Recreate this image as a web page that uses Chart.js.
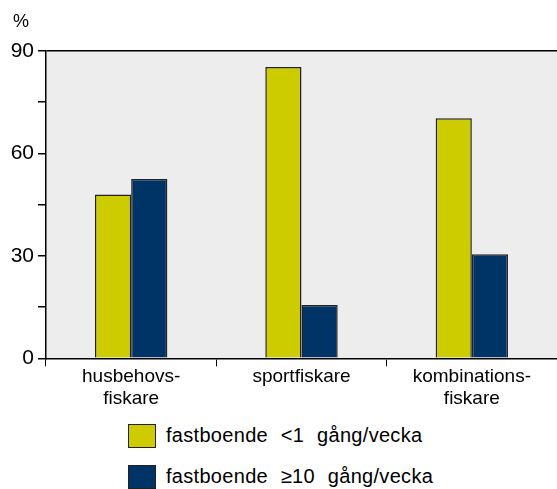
<!DOCTYPE html>
<html lang="sv">
<head>
    <meta charset="UTF-8">
    <title>Fiskare - fastboende</title>
    <script src="https://cdn.jsdelivr.net/npm/chart.js"></script>
    <style>
        body {
            margin: 0;
            background: #fff;
            font-family: "Liberation Sans", Arial, sans-serif;
        }
        .wrap {
            position: relative;
            width: 557px;
            height: 489px;
            overflow: hidden;
        }
        #chart {
            position: absolute;
            left: 0;
            top: 0;
        }
        .legend {
            position: absolute;
            left: 128px;
            top: 423px;
        }
        .legend-item {
            display: flex;
            align-items: center;
            height: 25px;
            margin-bottom: 16px;
            font-size: 20px;
            word-spacing: 7px;
            letter-spacing: 0.3px;
            color: #000;
        }
        .legend-box {
            width: 26px;
            height: 22px;
            border: 1.5px solid #222;
            margin-right: 10px;
        }
    </style>
</head>
<body>
    <div class="wrap">
        <canvas id="chart" width="557" height="410"></canvas>
        <div id="legend" class="legend"></div>
    </div>

    <script>
        // Data
        const categories = [['husbehovs-', 'fiskare'], ['sportfiskare'], ['kombinations-', 'fiskare']];
        const seriesNames = ['fastboende <1 gång/vecka', 'fastboende \u226510 gång/vecka'];
        const lessThanOne = [48, 85.3, 70.3];
        const tenOrMore = [52.5, 15.6, 30.5];
        const seriesColors = ['#cccc00', '#003366'];
        const yTicksLabelled = [0, 30, 60, 90];

        Chart.defaults.font.family = '"Liberation Sans", Arial, sans-serif';
        Chart.defaults.color = '#000';

        // gray plot background + the "%" unit label
        const plotBg = {
            id: 'plotBg',
            beforeDraw(chart) {
                const a = chart.chartArea;
                const ctx = chart.ctx;
                ctx.save();
                ctx.fillStyle = '#ededed';
                ctx.fillRect(a.left, a.top, chart.width - a.left, a.bottom - a.top);
                ctx.restore();
            },
            afterDraw(chart) {
                const ctx = chart.ctx;
                ctx.save();
                ctx.font = '18px "Liberation Sans", Arial, sans-serif';
                ctx.fillStyle = '#000';
                ctx.textAlign = 'center';
                ctx.textBaseline = 'middle';
                ctx.fillText('%', 21, 22);
                ctx.restore();
            }
        };

        const chart = new Chart(document.getElementById('chart'), {
            type: 'bar',
            data: {
                labels: categories,
                datasets: [
                    {
                        label: seriesNames[0],
                        data: lessThanOne,
                        backgroundColor: seriesColors[0],
                        borderColor: '#222',
                        borderWidth: 1.5
                    },
                    {
                        label: seriesNames[1],
                        data: tenOrMore,
                        backgroundColor: seriesColors[1],
                        borderColor: '#222',
                        borderWidth: 1.5
                    }
                ]
            },
            options: {
                responsive: false,
                animation: false,
                categoryPercentage: 0.425,
                barPercentage: 1.0,
                layout: {
                    padding: { top: 51, right: 0, bottom: 0, left: 0 }
                },
                plugins: {
                    legend: { display: false },
                    tooltip: { enabled: false }
                },
                scales: {
                    x: {
                        grid: {
                            offset: true,
                            drawOnChartArea: false,
                            tickLength: 8,
                            color: '#000'
                        },
                        border: { color: '#000', width: 1.5 },
                        ticks: {
                            font: { size: 19, lineHeight: 1.15 },
                            color: '#000',
                            padding: 0,
                            maxRotation: 0,
                            autoSkip: false
                        }
                    },
                    y: {
                        min: 0,
                        max: 90,
                        afterFit(scale) { scale.width = 46; },
                        grid: {
                            color: ctx => (ctx.tick && ctx.tick.value === 90) ? '#000' : 'rgba(0,0,0,0)',
                            lineWidth: 1.5,
                            tickColor: '#000',
                            tickLength: 8
                        },
                        border: { color: '#000', width: 1.5 },
                        ticks: {
                            stepSize: 15,
                            font: { size: 21 },
                            color: '#000',
                            padding: 4,
                            callback: v => yTicksLabelled.includes(v) ? String(v) : ''
                        }
                    }
                }
            },
            plugins: [plotBg]
        });

        // legend as html, stacked vertically
        const legendEl = document.getElementById('legend');
        chart.data.datasets.forEach(ds => {
            const item = document.createElement('div');
            item.className = 'legend-item';
            const box = document.createElement('span');
            box.className = 'legend-box';
            box.style.background = ds.backgroundColor;
            const txt = document.createElement('span');
            txt.textContent = ds.label;
            item.appendChild(box);
            item.appendChild(txt);
            legendEl.appendChild(item);
        });
    </script>
</body>
</html>
